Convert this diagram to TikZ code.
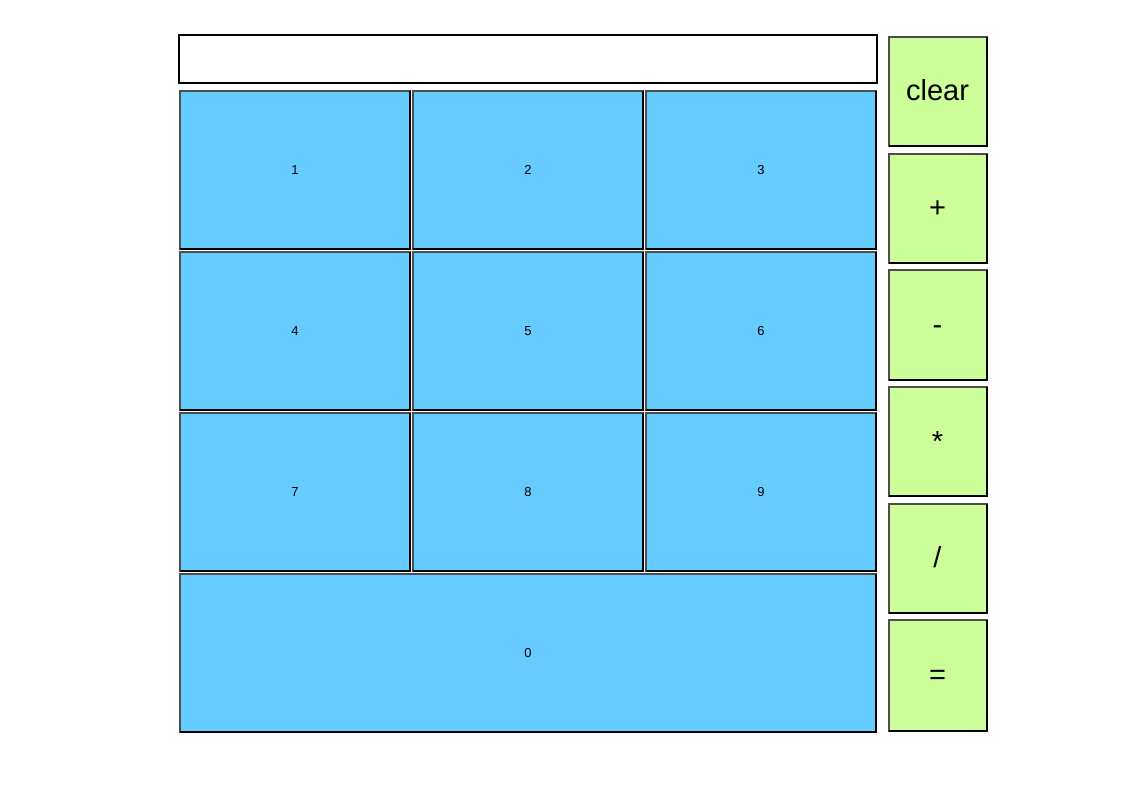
\documentclass[tikz,border=0pt]{standalone}
\usepackage{fontspec}
\setmainfont{Liberation Sans}
\definecolor{keyblue}{HTML}{66CCFF}
\definecolor{opgreen}{HTML}{CCFF99}
\definecolor{edgegray}{HTML}{4D4D4D}
\begin{document}
\begin{tikzpicture}[x=1pt,y=-1pt,
  keybase/.style={draw=edgegray, line width=2pt, inner sep=0pt, outer sep=0pt},
  numkey/.style={keybase, fill=keyblue, minimum width=230pt, minimum height=158pt, font=\fontsize{13}{15}\selectfont},
  opkey/.style={keybase, fill=opgreen, minimum width=98pt, minimum height=109pt, font=\fontsize{29}{33}\selectfont, text height=26pt, text depth=7pt},
  darkedge/.style={draw=black, line width=2pt},
  screen/.style={draw=black, line width=2pt, fill=white, inner sep=0pt, outer sep=0pt, minimum width=698pt, minimum height=48pt}]
\useasboundingbox (0,0) rectangle (1138,794);
\node[screen] (disp) at (528,59) {};
% digit keys
\node[numkey] (k1) at (295,170) {1};
\node[numkey] (k2) at (528,170) {2};
\node[numkey] (k3) at (761,170) {3};
\node[numkey] (k4) at (295,331) {4};
\node[numkey] (k5) at (528,331) {5};
\node[numkey] (k6) at (761,331) {6};
\node[numkey] (k7) at (295,492) {7};
\node[numkey] (k8) at (528,492) {8};
\node[numkey] (k9) at (761,492) {9};
\node[numkey, minimum width=696pt] (k0) at (528,653) {0};
% operator keys
\node[opkey] (clr) at (937.5,91.5) {clear};
\node[opkey] (plus) at (937.5,208.5) {+};
\node[opkey] (minus) at (937.5,325) {-};
\node[opkey] (times) at (937.5,441.5) {*};
\node[opkey] (divide) at (937.5,558) {/};
\node[opkey, minimum height=110.5pt] (equals) at (937.5,675.25) {=};
\foreach \n in {k1,k2,k3,k4,k5,k6,k7,k8,k9,k0,clr,plus,minus,times,divide,equals}
  \draw[darkedge] (\n.south west) -- (\n.south east) -- (\n.north east);
\end{tikzpicture}
\end{document}
